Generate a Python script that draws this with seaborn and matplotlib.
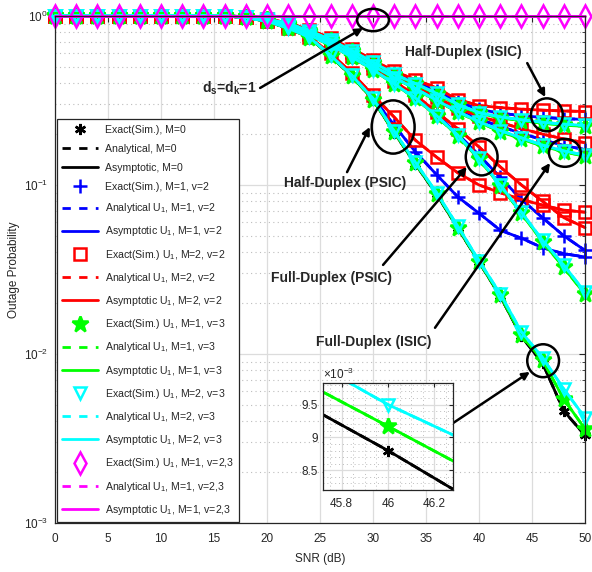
import matplotlib
matplotlib.use("Agg")
import matplotlib.pyplot as plt
import seaborn as sns
from matplotlib.lines import Line2D
from matplotlib.patches import Ellipse
from matplotlib.ticker import FuncFormatter, LogLocator, NullFormatter, MultipleLocator

sns.set_style("white")
plt.rcParams["font.family"] = ["Liberation Sans", "DejaVu Sans"]
plt.rcParams["mathtext.fontset"] = "custom"
plt.rcParams["mathtext.rm"] = "Liberation Sans"
plt.rcParams["mathtext.it"] = "Liberation Sans:italic"
plt.rcParams["mathtext.bf"] = "Liberation Sans:bold"
plt.rcParams["axes.unicode_minus"] = False

# SNR grid (dB), one marker every 2 dB
snr_db = [0, 2, 4, 6, 8, 10, 12, 14, 16, 18, 20, 22, 24,
          26, 28, 30, 32, 34, 36, 38, 40, 42, 44, 46, 48, 50]

# Half-Duplex (ISIC)
red_hd_isic = [1.0, 1.0, 1.0, 1.0, 1.0, 1.0, 1.0, 1.0, 1.0,
               0.99, 0.96, 0.91, 0.83, 0.74, 0.64, 0.55, 0.47, 0.42, 0.375, 0.32,
               0.295, 0.287, 0.281, 0.277, 0.274, 0.272]
blue_hd_isic = [1.0, 1.0, 1.0, 1.0, 1.0, 1.0, 1.0, 1.0, 1.0,
                0.99, 0.96, 0.905, 0.825, 0.73, 0.63, 0.54, 0.46, 0.405, 0.36, 0.31,
                0.28, 0.266, 0.257, 0.251, 0.247, 0.244]
green_hd_isic = [1.0, 1.0, 1.0, 1.0, 1.0, 1.0, 1.0, 1.0, 1.0,
                 0.99, 0.955, 0.9, 0.815, 0.72, 0.62, 0.53, 0.45, 0.395, 0.345, 0.298,
                 0.265, 0.25, 0.24, 0.232, 0.226, 0.222]
cyan_hd_isic = [1.0, 1.0, 1.0, 1.0, 1.0, 1.0, 1.0, 1.0, 1.0,
                0.99, 0.957, 0.902, 0.818, 0.723, 0.623, 0.533, 0.453, 0.398, 0.348, 0.3,
                0.268, 0.253, 0.243, 0.235, 0.229, 0.225]

# Full-Duplex (ISIC)
red_fd_isic = [1.0, 1.0, 1.0, 1.0, 1.0, 1.0, 1.0, 1.0, 1.0,
               0.985, 0.95, 0.89, 0.81, 0.71, 0.61, 0.52, 0.445, 0.385, 0.33, 0.285,
               0.255, 0.235, 0.215, 0.2, 0.187, 0.178]
blue_fd_isic = [1.0, 1.0, 1.0, 1.0, 1.0, 1.0, 1.0, 1.0, 1.0,
                0.985, 0.948, 0.885, 0.805, 0.70, 0.60, 0.51, 0.435, 0.375, 0.32, 0.277,
                0.245, 0.222, 0.202, 0.185, 0.171, 0.162]
green_fd_isic = [1.0, 1.0, 1.0, 1.0, 1.0, 1.0, 1.0, 1.0, 1.0,
                 0.985, 0.946, 0.88, 0.80, 0.695, 0.595, 0.505, 0.43, 0.37, 0.315, 0.27,
                 0.235, 0.207, 0.187, 0.17, 0.157, 0.148]
cyan_fd_isic = [1.0, 1.0, 1.0, 1.0, 1.0, 1.0, 1.0, 1.0, 1.0,
                0.985, 0.947, 0.882, 0.802, 0.697, 0.597, 0.507, 0.432, 0.372, 0.317, 0.272,
                0.237, 0.21, 0.19, 0.172, 0.159, 0.15]

# Full-Duplex (PSIC)
red_fd_psic = [1.0, 1.0, 1.0, 1.0, 1.0, 1.0, 1.0, 1.0, 1.0,
               0.98, 0.94, 0.87, 0.78, 0.68, 0.58, 0.49, 0.41, 0.34, 0.27, 0.215,
               0.168, 0.128, 0.10, 0.08, 0.064, 0.056]
blue_fd_psic = [1.0, 1.0, 1.0, 1.0, 1.0, 1.0, 1.0, 1.0, 1.0,
                0.98, 0.935, 0.865, 0.775, 0.675, 0.575, 0.485, 0.40, 0.33, 0.26, 0.20,
                0.15, 0.111, 0.082, 0.064, 0.05, 0.041]
green_fd_psic = [1.0, 1.0, 1.0, 1.0, 1.0, 1.0, 1.0, 1.0, 1.0,
                 0.98, 0.933, 0.862, 0.77, 0.67, 0.57, 0.48, 0.395, 0.325, 0.255, 0.195,
                 0.142, 0.099, 0.068, 0.046, 0.0325, 0.0225]
cyan_fd_psic = [1.0, 1.0, 1.0, 1.0, 1.0, 1.0, 1.0, 1.0, 1.0,
                0.98, 0.934, 0.863, 0.772, 0.672, 0.572, 0.482, 0.397, 0.327, 0.257, 0.197,
                0.144, 0.10, 0.069, 0.047, 0.0335, 0.0232]

# Half-Duplex (PSIC)
red_hd_psic = [1.0, 1.0, 1.0, 1.0, 1.0, 1.0, 1.0, 1.0, 1.0,
               0.98, 0.93, 0.85, 0.75, 0.60, 0.46, 0.34, 0.252, 0.184, 0.146, 0.118,
               0.10, 0.09, 0.082, 0.076, 0.071, 0.069]
blue_hd_psic = [1.0, 1.0, 1.0, 1.0, 1.0, 1.0, 1.0, 1.0, 1.0,
                0.98, 0.93, 0.85, 0.75, 0.59, 0.45, 0.33, 0.225, 0.157, 0.115, 0.085,
                0.068, 0.054, 0.0484, 0.0425, 0.0392, 0.0375]
green_hd_psic = [1.0, 1.0, 1.0, 1.0, 1.0, 1.0, 1.0, 1.0, 1.0,
                 0.98, 0.928, 0.845, 0.745, 0.58, 0.44, 0.32, 0.205, 0.134, 0.089, 0.056,
                 0.0352, 0.0222, 0.0129, 0.00917, 0.0054, 0.0036]
cyan_hd_psic = [1.0, 1.0, 1.0, 1.0, 1.0, 1.0, 1.0, 1.0, 1.0,
                0.98, 0.93, 0.848, 0.748, 0.585, 0.445, 0.325, 0.208, 0.136, 0.09, 0.057,
                0.0356, 0.0227, 0.0135, 0.0095, 0.0062, 0.0042]
black_hd_psic = [1.0, 1.0, 1.0, 1.0, 1.0, 1.0, 1.0, 1.0, 1.0,
                 0.98, 0.928, 0.845, 0.745, 0.58, 0.44, 0.32, 0.204, 0.133, 0.088, 0.0555,
                 0.035, 0.022, 0.0127, 0.0088, 0.0046, 0.0033]

# d_s = d_k = 1
magenta_all = [1.0, 1.0, 1.0, 1.0, 1.0, 1.0, 1.0, 1.0, 1.0, 1.0, 1.0, 1.0, 1.0,
               1.0, 1.0, 1.0, 1.0, 1.0, 1.0, 1.0, 1.0, 1.0, 1.0, 1.0, 1.0, 1.0]

legend_labels = [
    "Exact(Sim.), M=0", "Analytical, M=0", "Asymptotic, M=0",
    "Exact(Sim.), M=1, v=2",
    "Analytical U$_\\mathregular{1}$, M=1, v=2", "Asymptotic U$_\\mathregular{1}$, M=1, v=2",
    "Exact(Sim.) U$_\\mathregular{1}$, M=2, v=2",
    "Analytical U$_\\mathregular{1}$, M=2, v=2", "Asymptotic U$_\\mathregular{1}$, M=2, v=2",
    "Exact(Sim.) U$_\\mathregular{1}$, M=1, v=3",
    "Analytical U$_\\mathregular{1}$, M=1, v=3", "Asymptotic U$_\\mathregular{1}$, M=1, v=3",
    "Exact(Sim.) U$_\\mathregular{1}$, M=2, v=3",
    "Analytical U$_\\mathregular{1}$, M=2, v=3", "Asymptotic U$_\\mathregular{1}$, M=2, v=3",
    "Exact(Sim.) U$_\\mathregular{1}$, M=1, v=2,3",
    "Analytical U$_\\mathregular{1}$, M=1, v=2,3", "Asymptotic U$_\\mathregular{1}$, M=1, v=2,3",
]

styles = {
    "black": dict(color="black", marker=(6, 2, 0), ms=8, mfc="black"),
    "blue": dict(color="blue", marker="+", ms=10, mfc="blue"),
    "red": dict(color="red", marker="s", ms=8, mfc="none"),
    "green": dict(color="#00ff00", marker="*", ms=12, mfc="#00ff00"),
    "cyan": dict(color="cyan", marker="v", ms=9, mfc="none"),
    "magenta": dict(color="magenta", marker="d", ms=11, mfc="none"),
}

series = [
    ("black", [black_hd_psic]),
    ("blue", [blue_hd_isic, blue_fd_isic, blue_fd_psic, blue_hd_psic]),
    ("red", [red_hd_isic, red_fd_isic, red_fd_psic, red_hd_psic]),
    ("green", [green_hd_isic, green_fd_isic, green_fd_psic, green_hd_psic]),
    ("cyan", [cyan_hd_isic, cyan_fd_isic, cyan_fd_psic, cyan_hd_psic]),
    ("magenta", [magenta_all]),
]


def draw_curve(ax, y, st, clip):
    # simulated points, then analytical (dashed), then asymptotic (solid)
    sns.lineplot(x=snr_db, y=y, ax=ax, color=st["color"], linestyle="",
                 marker=st["marker"], markersize=st["ms"], markerfacecolor=st["mfc"],
                 markeredgecolor=st["color"], markeredgewidth=1.8,
                 estimator=None, sort=False, clip_on=clip)
    sns.lineplot(x=snr_db, y=y, ax=ax, color=st["color"], linewidth=2, linestyle="--",
                 estimator=None, sort=False, clip_on=clip)
    sns.lineplot(x=snr_db, y=y, ax=ax, color=st["color"], linewidth=2, linestyle="-",
                 estimator=None, sort=False, clip_on=clip)


fig = plt.figure(figsize=(5.92, 5.72), dpi=100)
ax = fig.add_axes([0.0929, 0.0857, 0.8953, 0.8864])

for name, curves in series:
    for y in curves:
        draw_curve(ax, y, styles[name], False)

ax.set_yscale("log")
ax.set_xlim(0, 50)
ax.set_ylim(1e-3, 1)
ax.set_xticks([0, 5, 10, 15, 20, 25, 30, 35, 40, 45, 50])
ax.yaxis.set_minor_locator(LogLocator(base=10, subs=[2, 3, 4, 5, 6, 7, 8, 9]))
ax.yaxis.set_minor_formatter(NullFormatter())
ax.set_axisbelow(True)
ax.grid(True, which="major", color="#dcdcdc", lw=0.9, ls="-")
ax.grid(True, which="minor", axis="y", color="#bdbdbd", lw=0.8, ls=(0, (1, 3)))
ax.tick_params(which="both", direction="in", top=True, right=True, labelsize=8.5,
               colors="#262626")
ax.tick_params(which="major", length=4)
ax.tick_params(which="minor", length=2)
ax.tick_params(axis="x", pad=7)
ax.tick_params(axis="y", pad=5)
for sp in ax.spines.values():
    sp.set_color("#262626")
    sp.set_linewidth(0.9)
ax.set_xlabel("SNR (dB)", fontsize=8.5, labelpad=6)
ax.set_ylabel("Outage Probability", fontsize=8.5, labelpad=3)

# legend
handles = []
for name in ["black", "blue", "red", "green", "cyan", "magenta"]:
    st = styles[name]
    handles.append(Line2D([], [], linestyle="", marker=st["marker"], markersize=st["ms"],
                          markerfacecolor=st["mfc"], markeredgecolor=st["color"],
                          markeredgewidth=1.8))
    handles.append(Line2D([], [], color=st["color"], linewidth=2, linestyle=(0, (3, 3))))
    handles.append(Line2D([], [], color=st["color"], linewidth=2, linestyle="-"))
leg = ax.legend(handles, legend_labels, loc="lower left", bbox_to_anchor=(0.004, 0.002),
                borderaxespad=0, fontsize=7.6, handlelength=3.4, handletextpad=0.6,
                labelspacing=0.87, borderpad=0.5, fancybox=False, framealpha=1)
leg.get_frame().set_edgecolor("#262626")
leg.get_frame().set_linewidth(0.9)

# annotations (positions in axes fraction)
circles = [
    (0.600, 0.992, 0.060, 0.044),
    (0.928, 0.805, 0.060, 0.065),
    (0.638, 0.781, 0.081, 0.105),
    (0.805, 0.722, 0.060, 0.073),
    (0.962, 0.730, 0.060, 0.055),
    (0.921, 0.320, 0.060, 0.065),
]
for cx, cy, w, h in circles:
    ax.add_patch(Ellipse((cx, cy), w, h, transform=ax.transAxes, fill=False,
                         ec="black", lw=1.8, clip_on=False, zorder=20))

arrows = [
    ((0.387, 0.858), (0.581, 0.976)),
    ((0.891, 0.907), (0.925, 0.840)),
    ((0.551, 0.692), (0.594, 0.781)),
    ((0.619, 0.509), (0.777, 0.702)),
    ((0.717, 0.385), (0.934, 0.710)),
    ((0.751, 0.197), (0.896, 0.298)),
]
for start, end in arrows:
    ax.annotate("", xy=end, xytext=start, xycoords="axes fraction",
                textcoords="axes fraction",
                arrowprops=dict(arrowstyle="-|>", color="black", lw=1.8,
                                mutation_scale=11, shrinkA=0, shrinkB=0),
                zorder=20)

notes = [
    (0.328, 0.858, "d$_\\mathbf{s}$=d$_\\mathbf{k}$=1"),
    (0.770, 0.929, "Half-Duplex (ISIC)"),
    (0.547, 0.671, "Half-Duplex (PSIC)"),
    (0.521, 0.483, "Full-Duplex (PSIC)"),
    (0.602, 0.357, "Full-Duplex (ISIC)"),
]
for tx, ty, s in notes:
    ax.text(tx, ty, s, transform=ax.transAxes, ha="center", va="center",
            fontsize=10, fontweight="bold", zorder=21)

# zoomed inset around SNR = 46 dB
axins = fig.add_axes([0.5456, 0.1434, 0.2196, 0.1871])
axins.set_facecolor("white")
axins.set_zorder(30)
draw_curve(axins, black_hd_psic, styles["black"], True)
draw_curve(axins, green_hd_psic, styles["green"], True)
draw_curve(axins, cyan_hd_psic, styles["cyan"], True)
axins.set_xlim(45.72, 46.28)
axins.set_ylim(0.0082, 0.00983)
axins.set_xticks([45.8, 46, 46.2])
axins.set_yticks([0.0085, 0.009, 0.0095])
axins.xaxis.set_major_formatter(FuncFormatter(lambda v, p: "%g" % round(v, 1)))
axins.yaxis.set_major_formatter(FuncFormatter(lambda v, p: "%g" % round(v * 1e3, 1)))
axins.xaxis.set_minor_locator(MultipleLocator(0.05))
axins.yaxis.set_minor_locator(MultipleLocator(0.0001))
axins.set_axisbelow(True)
axins.grid(True, which="major", color="#dcdcdc", lw=0.9, ls="-")
axins.grid(True, which="minor", color="#bdbdbd", lw=0.7, ls=(0, (1, 3)))
axins.tick_params(which="both", direction="in", top=True, right=True, labelsize=8.5,
                  colors="#262626")
axins.tick_params(which="major", length=3)
axins.tick_params(which="minor", length=0)
axins.tick_params(axis="x", pad=6)
for sp in axins.spines.values():
    sp.set_color("#262626")
    sp.set_linewidth(0.9)
axins.set_xlabel("")
axins.set_ylabel("")
axins.text(0.0, 1.01, "$\\times$10$^{-3}$", transform=axins.transAxes, ha="left",
           va="bottom", fontsize=8.5, color="#262626")

fig.savefig("out.png", dpi=100)
